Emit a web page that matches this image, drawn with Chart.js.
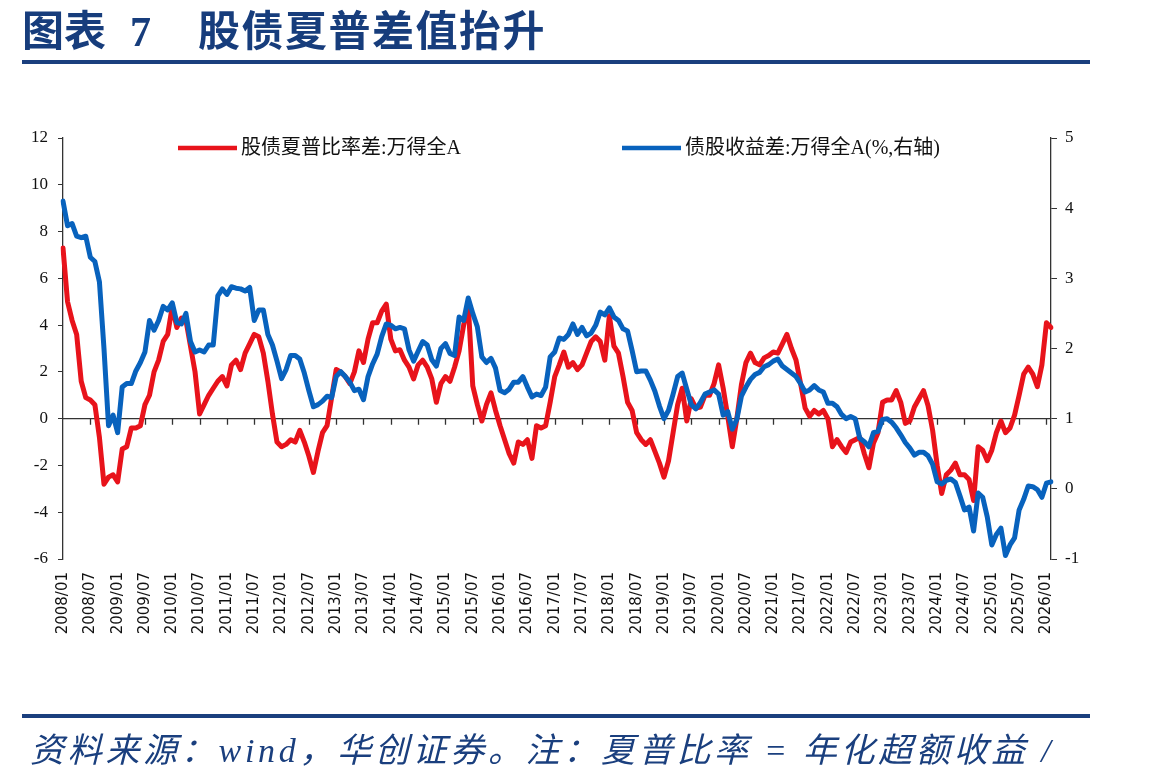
<!DOCTYPE html>
<html><head><meta charset="utf-8">
<script src="https://cdn.jsdelivr.net/npm/chart.js@4.4.1/dist/chart.umd.min.js"></script>
<style>
html,body{margin:0;padding:0;background:#fff;width:1149px;height:784px;overflow:hidden;position:relative;}
canvas{position:absolute;left:0;top:0;}
#title{position:absolute;left:22px;top:7px;font-family:"Noto Sans CJK SC";font-weight:bold;font-size:42px;line-height:42px;color:#173d7c;white-space:nowrap;}
#title .num{font-family:"Liberation Serif";margin-left:24px;}
#title .t2{margin-left:47px;letter-spacing:1.5px;}
.rule{position:absolute;left:22px;width:1068px;height:4px;background:#1a3f7e;}
#foot{position:absolute;left:30px;top:734px;font-family:"Liberation Serif","Noto Sans CJK SC";font-style:italic;font-size:34px;line-height:34px;color:#1a3f7e;white-space:pre;letter-spacing:3.7px;}
</style></head><body>
<canvas id="c" width="1149" height="784"></canvas>
<div id="title">图表<span class="num">7</span><span class="t2">股债夏普差值抬升</span></div>
<div class="rule" style="top:60px"></div>
<div class="rule" style="top:714px"></div>
<div id="foot">资料来源：wind，华创证券。注：夏普比率 = 年化超额收益 /</div>
<script>
// Series: monthly readings, 2008/01 .. 2026/02
const redLabel = '股债夏普比率差:万得全A';
const blueLabel = '债股收益差:万得全A(%,右轴)';
const redVals = [
 7.3,5.0,4.2,3.6,1.6,0.9,0.8,0.6,-0.8,-2.8,-2.5,-2.4,
 -2.7,-1.3,-1.2,-0.4,-0.4,-0.3,0.6,1.0,2.0,2.5,3.3,3.6,
 4.8,3.9,4.3,4.2,3.1,2.0,0.2,0.6,1.0,1.3,1.6,1.8,
 1.4,2.3,2.5,2.1,2.8,3.2,3.6,3.5,2.8,1.6,0.2,-1.0,
 -1.2,-1.1,-0.9,-1.0,-0.5,-1.0,-1.6,-2.3,-1.4,-0.6,-0.3,0.9,
 2.1,2.0,1.8,1.5,2.0,2.9,2.4,3.4,4.1,4.1,4.6,4.9,
 3.4,2.9,2.95,2.5,2.2,1.7,2.3,2.5,2.2,1.7,0.7,1.5,
 1.8,1.6,2.2,2.9,4.0,4.9,1.4,0.6,-0.1,0.6,1.1,0.35,
 -0.3,-0.9,-1.5,-1.9,-1.0,-1.1,-0.9,-1.7,-0.3,-0.4,-0.3,0.7,
 1.8,2.3,2.85,2.2,2.4,2.1,2.3,2.8,3.3,3.5,3.3,2.5,
 4.4,3.1,2.8,1.8,0.7,0.35,-0.6,-0.9,-1.1,-0.9,-1.4,-1.9,
 -2.5,-1.8,-0.6,0.6,1.3,-0.1,0.85,0.45,0.5,1.0,1.0,1.5,
 2.3,1.3,0.1,-1.2,0.0,1.45,2.4,2.8,2.4,2.3,2.6,2.7,
 2.85,2.8,3.2,3.6,3.0,2.5,1.5,0.45,0.1,0.35,0.2,0.35,
 0.0,-1.2,-0.9,-1.2,-1.45,-1.0,-0.9,-0.8,-1.5,-2.1,-1.05,-0.6,
 0.7,0.8,0.8,1.2,0.7,-0.2,-0.1,0.5,0.85,1.2,0.55,-0.5,
 -2.0,-3.2,-2.4,-2.2,-1.9,-2.4,-2.4,-2.6,-3.5,-1.2,-1.35,-1.8,
 -1.35,-0.6,-0.1,-0.6,-0.4,0.15,1.0,1.9,2.2,1.9,1.37,2.3,
 4.1,3.9
];
const blueVals = [
 4.1,3.75,3.78,3.6,3.58,3.6,3.3,3.24,2.95,2.0,0.9,1.05,
 0.8,1.45,1.5,1.5,1.68,1.8,1.95,2.4,2.26,2.4,2.6,2.55,
 2.65,2.37,2.35,2.5,2.1,1.95,1.98,1.95,2.05,2.05,2.75,2.85,
 2.77,2.88,2.86,2.85,2.82,2.87,2.4,2.55,2.55,2.2,2.05,1.82,
 1.57,1.7,1.9,1.9,1.85,1.65,1.4,1.17,1.2,1.25,1.32,1.3,
 1.6,1.67,1.6,1.52,1.4,1.42,1.27,1.6,1.78,1.92,2.17,2.35,
 2.33,2.28,2.3,2.28,1.98,1.82,1.96,2.1,2.05,1.84,1.75,2.0,
 2.07,1.93,1.9,2.45,2.4,2.72,2.5,2.31,1.88,1.8,1.86,1.72,
 1.4,1.37,1.42,1.52,1.52,1.6,1.45,1.31,1.35,1.33,1.45,1.88,
 1.95,2.15,2.13,2.2,2.35,2.2,2.3,2.18,2.22,2.33,2.52,2.48,
 2.58,2.45,2.4,2.28,2.25,1.97,1.67,1.68,1.68,1.55,1.39,1.18,
 1.0,1.12,1.35,1.6,1.65,1.42,1.2,1.14,1.23,1.35,1.38,1.41,
 1.35,1.05,1.1,0.85,0.99,1.32,1.45,1.56,1.63,1.66,1.74,1.77,
 1.82,1.85,1.75,1.7,1.65,1.6,1.5,1.38,1.41,1.47,1.41,1.38,
 1.22,1.22,1.17,1.06,1.0,1.03,1.0,0.72,0.67,0.6,0.8,0.82,
 0.99,1.0,0.95,0.87,0.77,0.66,0.58,0.48,0.52,0.52,0.47,0.35,
 0.1,0.07,0.12,0.14,0.09,-0.1,-0.3,-0.26,-0.6,-0.06,-0.12,-0.4,
 -0.8,-0.65,-0.56,-0.95,-0.8,-0.7,-0.3,-0.15,0.04,0.03,-0.01,-0.12,
 0.08,0.1
];
const startYear = 2008;
const months = redVals.map((v, i) => (startYear + Math.floor(i / 12)) + '/' + String(i % 12 + 1).padStart(2, '0'));
const leftTicks = {min: -6, max: 12, step: 2};
const rightTicks = {min: -1, max: 5, step: 1};

const zeroAxis = {
  id: 'zeroAxis',
  beforeDatasetsDraw(chart) {
    const {ctx, chartArea: a, scales} = chart;
    const y0 = scales.y.getPixelForValue(0);
    ctx.save();
    ctx.strokeStyle = '#333';
    ctx.lineWidth = 1.3;
    ctx.beginPath();
    ctx.moveTo(a.left, y0); ctx.lineTo(a.right, y0);
    months.forEach((m, i) => {
      if (i % 6 === 0 && i > 0) {
        const px = Math.round(scales.x.getPixelForValue(i)) + 0.5;
        ctx.moveTo(px, y0); ctx.lineTo(px, y0 + 6);
      }
    });
    ctx.stroke();
    ctx.restore();
  }
};
const refLegend = {
  id: 'refLegend',
  afterDraw(chart) {
    const {ctx, chartArea: a} = chart;
    const items = [{ds: 0, off: 115}, {ds: 1, off: 559}];
    ctx.save();
    ctx.font = '20px "Liberation Serif", "Noto Sans CJK SC"';
    ctx.textBaseline = 'middle';
    items.forEach(it => {
      const ds = chart.data.datasets[it.ds];
      const x = a.left + it.off, y = a.top + 10;
      ctx.strokeStyle = ds.borderColor;
      ctx.lineWidth = 4.5;
      ctx.beginPath(); ctx.moveTo(x, y); ctx.lineTo(x + 59, y); ctx.stroke();
      ctx.fillStyle = '#111';
      ctx.fillText(ds.label, x + 63, y + 1);
    });
    ctx.restore();
  }
};

new Chart(document.getElementById('c'), {
  type: 'line',
  data: {
    labels: months,
    datasets: [
      {label: redLabel, data: redVals, borderColor: '#e8131b', borderWidth: 5, pointRadius: 0, tension: 0, yAxisID: 'y', order: 2, borderJoinStyle: 'round', borderCapStyle: 'round'},
      {label: blueLabel, data: blueVals, borderColor: '#0862bd', borderWidth: 5, pointRadius: 0, tension: 0, yAxisID: 'y1', order: 1, borderJoinStyle: 'round', borderCapStyle: 'round'}
    ]
  },
  options: {
    responsive: false,
    animation: false,
    devicePixelRatio: 1,
    layout: {padding: {top: 138, left: 0, right: 0, bottom: 125}},
    plugins: {legend: {display: false}, tooltip: {enabled: false}},
    scales: {
      x: {
        type: 'category', offset: false,
        grid: {display: false, drawTicks: false},
        border: {display: false},
        ticks: {autoSkip: false, minRotation: 90, maxRotation: 90, padding: 13,
          font: {family: 'DejaVu Sans', size: 15}, color: '#111',
          callback: (v, i) => (i % 6 === 0 && i < months.length - 1) ? months[i] : ''},
        afterFit: s => { s.height = 100; }
      },
      y: {
        position: 'left', min: leftTicks.min, max: leftTicks.max,
        ticks: {stepSize: leftTicks.step, padding: 10, font: {family: 'Liberation Serif', size: 17}, color: '#111'},
        grid: {drawOnChartArea: false, tickLength: 5, color: '#333'},
        border: {color: '#333', width: 1.3},
        afterFit: s => { s.width = 63; }
      },
      y1: {
        position: 'right', min: rightTicks.min, max: rightTicks.max,
        ticks: {stepSize: rightTicks.step, padding: 8, font: {family: 'Liberation Serif', size: 17}, color: '#111'},
        grid: {drawOnChartArea: false, tickLength: 6, color: '#333'},
        border: {color: '#333', width: 1.3},
        afterFit: s => { s.width = 98; }
      }
    }
  },
  plugins: [zeroAxis, refLegend]
});
</script>
</body></html>
